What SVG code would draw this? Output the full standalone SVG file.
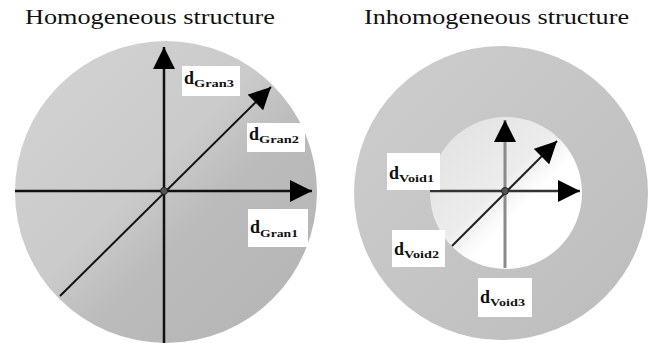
<svg xmlns="http://www.w3.org/2000/svg" width="648" height="343" viewBox="0 0 648 343">
<defs>
<style>
.title{font-family:"Liberation Serif","Times New Roman",serif;font-size:20px;fill:#111}
.lbl{font-family:"Liberation Serif","Times New Roman",serif;font-weight:bold;fill:#111}
.d{font-size:18px}
.sub{font-size:10px}
.box{fill:#ffffff}
.ax{stroke:#111;stroke-width:2.5;fill:none}
.diag{stroke:#111;stroke-width:2;fill:none}
</style>
<linearGradient id="gL" x1="0" y1="0" x2="1" y2="1">
<stop offset="0" stop-color="#d4d4d4"/>
<stop offset="0.45" stop-color="#cacaca"/>
<stop offset="0.6" stop-color="#bbbbbb"/>
<stop offset="1" stop-color="#b4b4b4"/>
</linearGradient>
<linearGradient id="gR" x1="0" y1="0" x2="1" y2="1">
<stop offset="0" stop-color="#cecece"/>
<stop offset="1" stop-color="#bcbcbc"/>
</linearGradient>
<linearGradient id="gI" x1="0" y1="0" x2="1" y2="1">
<stop offset="0" stop-color="#e0e0e0"/>
<stop offset="0.45" stop-color="#ececec"/>
<stop offset="0.6" stop-color="#ffffff"/>
<stop offset="1" stop-color="#ffffff"/>
</linearGradient>
<marker id="ah" markerUnits="userSpaceOnUse" markerWidth="22" markerHeight="22" viewBox="0 0 22 22" refX="22" refY="11" orient="auto">
<path d="M0,0 L22,11 L0,22 z" fill="#000"/>
</marker>
</defs>
<rect width="648" height="343" fill="#ffffff"/>

<g id="homogeneous">
<text class="title" x="25" y="24" textLength="250" lengthAdjust="spacingAndGlyphs">Homogeneous structure</text>
<circle cx="166" cy="192" r="151" fill="url(#gL)"/>
</g>

<g id="inhomogeneous">
<text class="title" x="364" y="24" textLength="265" lengthAdjust="spacingAndGlyphs">Inhomogeneous structure</text>
<circle cx="501" cy="193" r="147" fill="url(#gR)"/>
<circle cx="506" cy="193" r="76" fill="url(#gI)"/>
</g>

<g id="connectors">
<line class="ax" x1="164" y1="343" x2="164" y2="47" marker-end="url(#ah)"/>
<line class="ax" x1="15" y1="191" x2="312" y2="191" marker-end="url(#ah)"/>
<line class="diag" x1="60" y1="296" x2="271" y2="87" marker-end="url(#ah)"/>
<circle cx="164" cy="191" r="3.5" fill="#555" stroke="#222" stroke-width="1"/>

<line x1="505" y1="268" x2="505" y2="120" stroke="#8a8a8a" stroke-width="3" marker-end="url(#ah)"/>
<line x1="430" y1="191" x2="580" y2="191" stroke="#333" stroke-width="2.5" marker-end="url(#ah)"/>
<line x1="452" y1="246" x2="557" y2="141" stroke="#222" stroke-width="2" marker-end="url(#ah)"/>
<circle cx="505" cy="191" r="3.5" fill="#555" stroke="#222" stroke-width="1"/>
</g>

<g id="label-gran3">
<rect class="box" x="182" y="66" width="58" height="30"/>
<text class="lbl" x="184" y="84"><tspan class="d">d</tspan><tspan class="sub" dy="3" textLength="40" lengthAdjust="spacingAndGlyphs">Gran3</tspan></text>
</g>
<g id="label-gran2">
<rect class="box" x="247" y="123" width="58" height="29"/>
<text class="lbl" x="249" y="140"><tspan class="d">d</tspan><tspan class="sub" dy="3" textLength="40" lengthAdjust="spacingAndGlyphs">Gran2</tspan></text>
</g>
<g id="label-gran1">
<rect class="box" x="248" y="209" width="60" height="38"/>
<text class="lbl" x="250" y="233"><tspan class="d">d</tspan><tspan class="sub" dy="4" textLength="38" lengthAdjust="spacingAndGlyphs">Gran1</tspan></text>
</g>
<g id="label-void1">
<rect class="box" x="387" y="153" width="53" height="37"/>
<text class="lbl" x="389" y="179"><tspan class="d">d</tspan><tspan class="sub" dy="3" textLength="35" lengthAdjust="spacingAndGlyphs">Void1</tspan></text>
</g>
<g id="label-void2">
<rect class="box" x="392" y="230" width="53" height="37"/>
<text class="lbl" x="394" y="255"><tspan class="d">d</tspan><tspan class="sub" dy="3" textLength="35" lengthAdjust="spacingAndGlyphs">Void2</tspan></text>
</g>
<g id="label-void3">
<rect class="box" x="478" y="278" width="54" height="39"/>
<text class="lbl" x="480" y="303"><tspan class="d">d</tspan><tspan class="sub" dy="3" textLength="35" lengthAdjust="spacingAndGlyphs">Void3</tspan></text>
</g>
</svg>
